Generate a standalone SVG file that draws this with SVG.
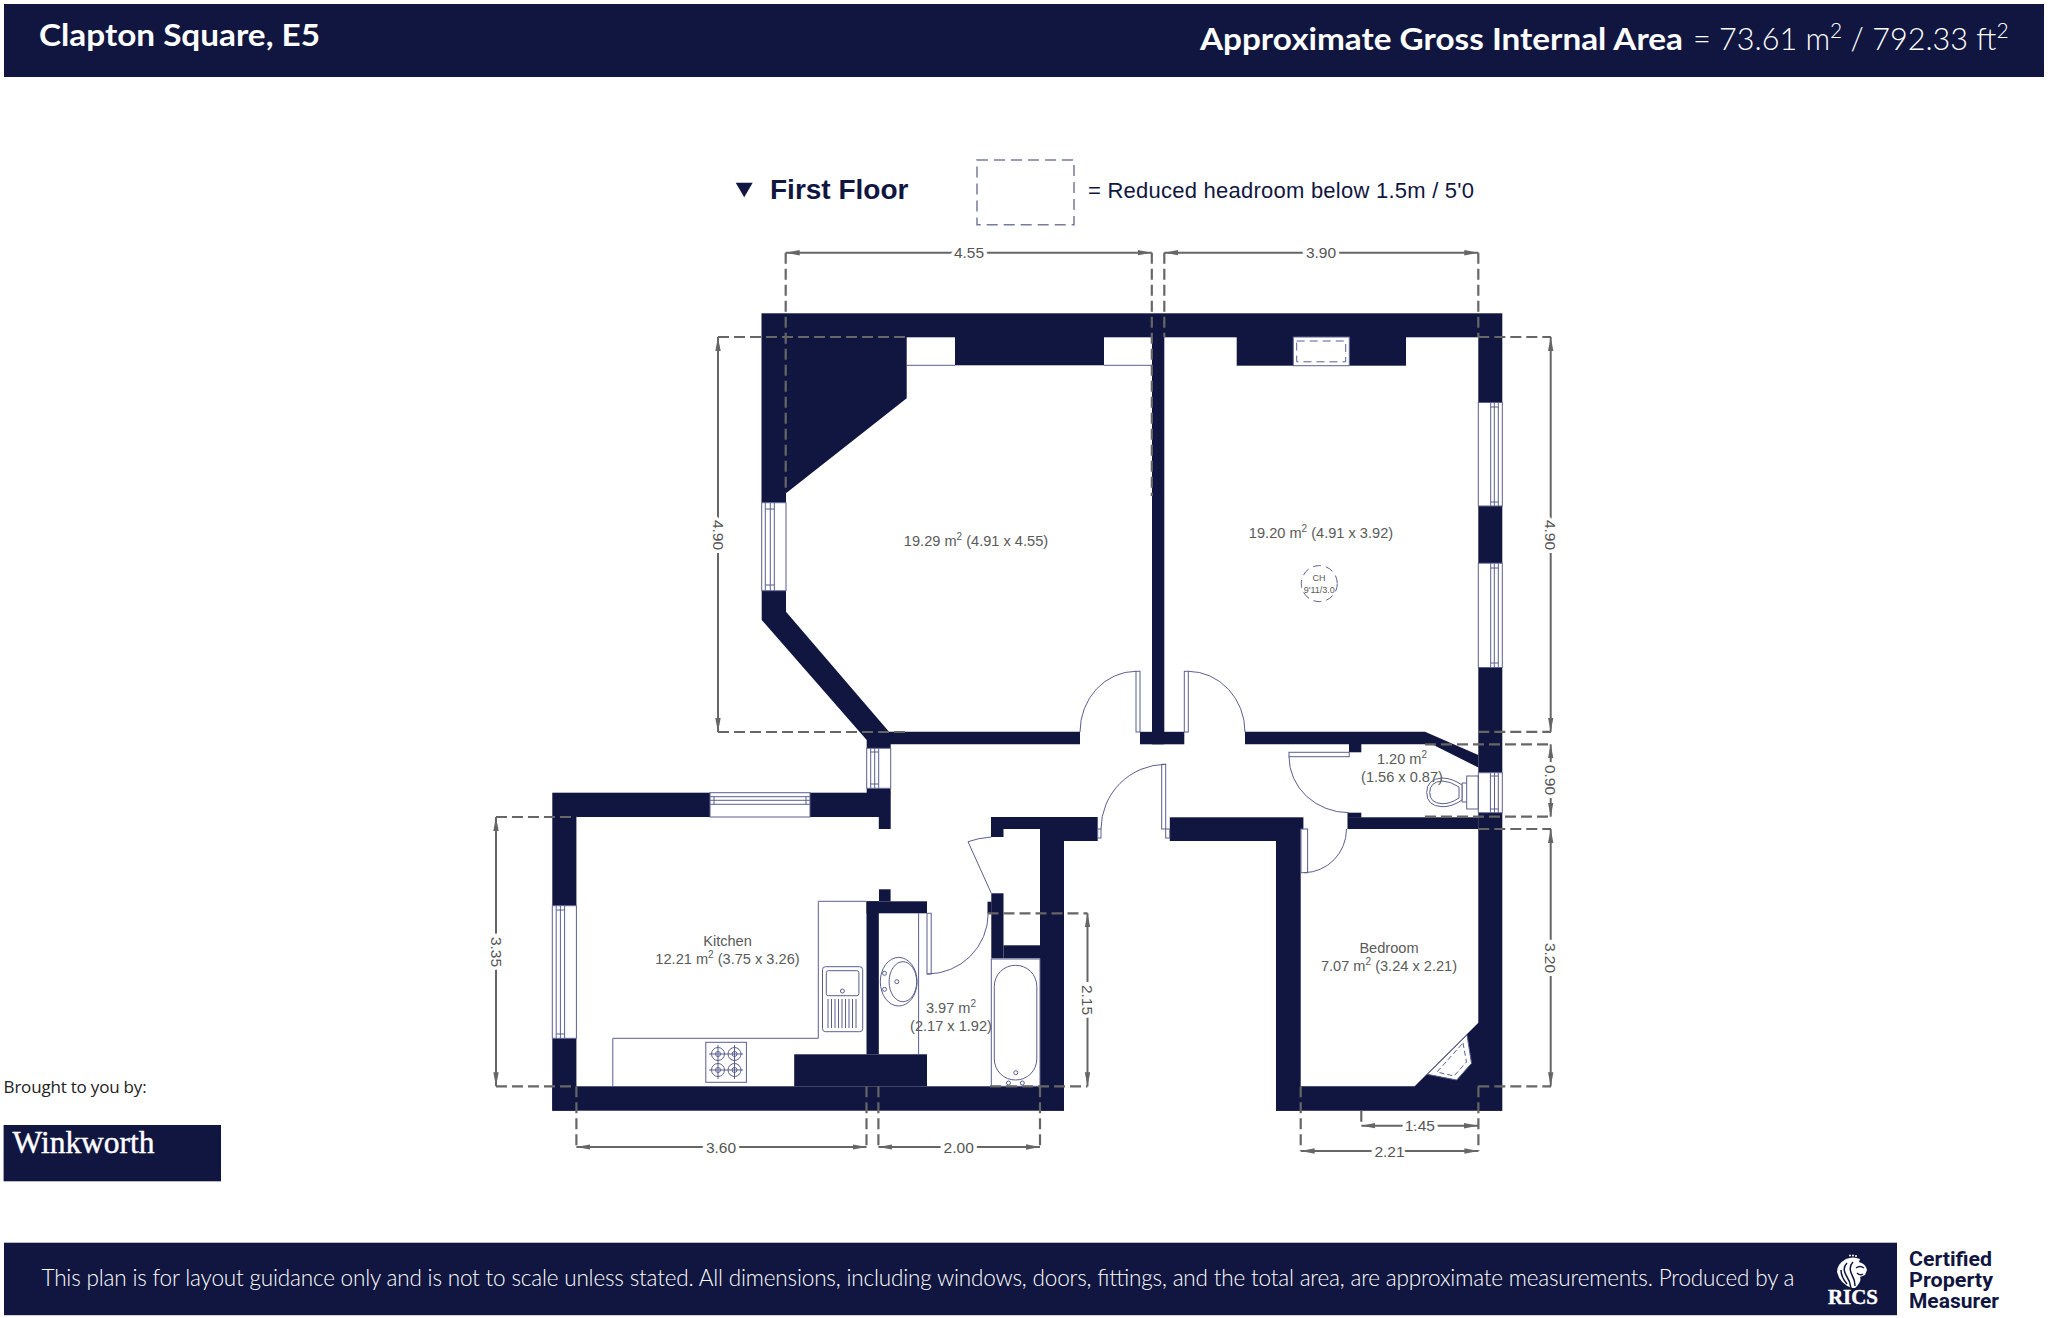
<svg xmlns="http://www.w3.org/2000/svg" width="2048" height="1318" viewBox="0 0 2048 1318">
<style>
.n{fill:#10163f}
.t{fill:#fff;stroke:#5a5f90;stroke-width:1}
.l{fill:none;stroke:#5a5f90;stroke-width:1}
.d{fill:none;stroke:#666;stroke-width:2.2;stroke-dasharray:11 5}
.a{fill:none;stroke:#666;stroke-width:2;marker-start:url(#m);marker-end:url(#m)}
.x{font-family:"Liberation Sans",Arial,sans-serif;font-size:14.6px;fill:#5a5a5a;text-anchor:middle}
.dm{font-family:"Liberation Sans",Arial,sans-serif;font-size:15.5px;fill:#555;text-anchor:middle;paint-order:stroke;stroke:#fff;stroke-width:7px}
.bn{font-family:Lato,"Noto Sans",sans-serif;fill:#fff}
</style>
<defs>
<marker id="m" markerWidth="15" markerHeight="7" refX="14" refY="3.5" orient="auto-start-reverse" markerUnits="userSpaceOnUse"><path d="M0 0.8 L14 3.5 L0 6.2Z" fill="#666"/></marker>
</defs>
<rect width="2048" height="1318" fill="#fff"/>
<g id="header">
<rect class="n" x="4" y="4" width="2040" height="73"/>
<text class="bn" x="39" y="46" font-size="30" font-weight="700" textLength="281" lengthAdjust="spacingAndGlyphs">Clapton Square, E5</text>
<text class="bn" x="1200" y="49.5" font-size="30" font-weight="700" textLength="483" lengthAdjust="spacingAndGlyphs">Approximate Gross Internal Area</text>
<text class="bn" x="1693" y="49.5" font-size="30.6" font-weight="300">= 73.61 m<tspan dy="-12" font-size="21">2</tspan><tspan dy="12"> / 792.33 ft</tspan><tspan dy="-12" font-size="21">2</tspan></text>
</g>
<g id="legend">
<path class="n" d="M735.7 182.7H752.7L744.2 197.3Z"/>
<text x="770" y="198.5" font-family="'Liberation Sans',Arial,sans-serif" font-size="28" font-weight="700" fill="#10163f">First Floor</text>
<rect x="977" y="160" width="97" height="64.7" fill="none" stroke="#777b9b" stroke-width="1.5" stroke-dasharray="11 6"/>
<text x="1088" y="198" font-family="'Liberation Sans',Arial,sans-serif" font-size="22" fill="#10163f" textLength="386">= Reduced headroom below 1.5m / 5'0</text>
</g>
<g id="walls" class="n">
<rect x="761.5" y="313.3" width="740.8" height="24"/>
<path d="M761.5 337H906.7V398.3L786 493.3V502.7H761.5Z"/>
<rect x="955" y="337" width="149" height="28.3"/>
<rect x="1236.7" y="337" width="56.6" height="28.7"/>
<rect x="1349.3" y="337" width="56.7" height="28.7"/>
<rect x="1152" y="337" width="12.3" height="407.3"/>
<rect x="1140" y="731.8" width="44.3" height="12.5"/>
<path d="M761.7 590.7H786V611.7L889 731.8H1080V744.3H890.7V748.3H866.7V740L761.7 620Z"/>
<rect x="1478.3" y="337" width="24" height="65.5"/>
<rect x="1478.3" y="506" width="24" height="57.2"/>
<rect x="1478.3" y="667.5" width="24" height="105.2"/>
<rect x="1478.3" y="812.7" width="24" height="298"/>
<path d="M1245 731.8H1425L1478.3 755V767.5L1432 744.3H1245Z"/>
<rect x="1349" y="744" width="12.3" height="8.3"/>
<rect x="1347.5" y="817.3" width="131" height="11.7"/>
<rect x="1347.5" y="812.7" width="13.8" height="5"/>
<rect x="1276" y="829" width="24.7" height="281.7"/>
<rect x="1169.8" y="817.3" width="133.6" height="11.7"/>
<rect x="1169.8" y="829" width="106.2" height="12"/>
<path d="M1276 1086.3H1414.7L1478.3 1022.7H1502V1110.7H1276Z"/>
<rect x="991" y="817" width="106.7" height="12"/>
<rect x="1040" y="829" width="57.7" height="12"/>
<rect x="991" y="829" width="12.5" height="8"/>
<rect x="1040" y="829" width="24" height="281.7"/>
<rect x="991.3" y="893.3" width="12.2" height="65"/>
<rect x="987.5" y="901.7" width="4" height="11.6"/>
<rect x="1003.5" y="945.3" width="36.5" height="13"/>
<rect x="552.3" y="792.7" width="157.7" height="24.3"/>
<rect x="810" y="792.7" width="80.7" height="24.3"/>
<rect x="866.7" y="788.3" width="24" height="5"/>
<rect x="878.8" y="817" width="11.9" height="12"/>
<rect x="552.3" y="817" width="24.1" height="88.7"/>
<rect x="552.3" y="1038.3" width="24.1" height="72.4"/>
<rect x="552.3" y="1086.3" width="511.7" height="24.4"/>
<rect x="794.2" y="1054.3" width="132.8" height="32"/>
<rect x="866.5" y="901.3" width="12.3" height="153"/>
<rect x="866.5" y="901.3" width="60.5" height="12"/>
<rect x="879" y="889.3" width="11.6" height="12"/>
</g>
<g id="chimney-recesses">
<path class="l" d="M906.7 365.3H955M1104 365.3H1152"/>
<rect class="t" x="1293.3" y="337" width="56" height="28.7"/>
<rect x="1296.7" y="341" width="49" height="20.8" fill="none" stroke="#5a5f90" stroke-dasharray="8 5"/>
</g>
<g id="windows">
<g id="window-left"><rect class="t" x="761.7" y="502.7" width="24.3" height="88"/><path class="l" d="M765.3 502.7V590.7M770.3 502.7V590.7M774.3 502.7V590.7M765.3 509H774.3M765.3 585H774.3"/></g>
<g id="window-landing"><rect class="t" x="866.7" y="748.3" width="24" height="40"/><path class="l" d="M870.7 748.3V788.3M874.7 748.3V788.3M878.7 748.3V788.3M870.7 752H878.7M870.7 784H878.7"/></g>
<g id="window-right-1"><rect class="t" x="1478.3" y="402.5" width="24" height="103.5"/><path class="l" d="M1490.7 402.5V506M1494.3 402.5V506M1498.3 402.5V506M1490.7 407H1498.3M1490.7 502H1498.3"/></g>
<g id="window-right-2"><rect class="t" x="1478.3" y="563.2" width="24" height="104.3"/><path class="l" d="M1490.7 563.2V667.5M1494.3 563.2V667.5M1498.3 563.2V667.5M1490.7 568H1498.3M1490.7 663H1498.3"/></g>
<g id="window-wc"><rect class="t" x="1478.3" y="772.7" width="24" height="40"/><path class="l" d="M1490.4 772.7V812.7M1494.5 772.7V812.7M1498.3 772.7V812.7M1490.4 776H1498.3M1490.4 809H1498.3"/></g>
<g id="window-kitchen-top"><rect class="t" x="710" y="792.7" width="100" height="24.3"/><path class="l" d="M710 796.7H810M710 800.3H810M710 804.3H810M714 796.7V804.3M806 796.7V804.3"/></g>
<g id="window-kitchen-left"><rect class="t" x="552.3" y="905.7" width="24.1" height="132.6"/><path class="l" d="M556.2 905.7V1038.3M560.4 905.7V1038.3M564.6 905.7V1038.3M556.2 910H564.6M556.2 1034H564.6"/></g>
</g>
<g id="doors">
<g id="door-living-left"><rect class="t" x="1136" y="671.3" width="4" height="60.7"/><path class="l" d="M1136 671.3A56 60.7 0 0 0 1080 732"/></g>
<g id="door-living-right"><rect class="t" x="1184.3" y="671.3" width="4" height="60.7"/><path class="l" d="M1188.3 671.3A57 60.7 0 0 1 1245 732"/></g>
<g id="door-hall"><rect class="t" x="1161.7" y="764.3" width="4" height="64.7"/><path class="l" d="M1165.7 764.3A65 65 0 0 0 1101 829"/><rect class="t" x="1097.7" y="829" width="3.3" height="9"/><rect class="t" x="1165.7" y="829" width="4" height="9"/></g>
<g id="door-wc"><rect class="t" x="1289" y="752.3" width="60.2" height="4.4"/><path class="l" d="M1289 756.7A60 56 0 0 0 1349 812.7"/></g>
<g id="door-bedroom"><rect class="t" x="1301" y="829" width="6.6" height="43.7"/><path class="l" d="M1304 872.7A43 43.7 0 0 0 1346.5 829"/></g>
<g id="door-kitchen-bath"><path class="l" d="M991.3 893.3L968 841.7Q978 838 991.3 837"/></g>
<g id="door-bath"><rect class="t" x="927" y="913.3" width="4.2" height="60.7"/><path class="l" d="M927 974A61 60.7 0 0 0 988.2 913.3"/></g>
</g>
<g id="fittings">
<path id="worktop" class="l" d="M612.8 1086.3V1038.3H818.3V901.3H866.5"/>
<g id="sink"><rect class="l" x="822.5" y="966.7" width="40.2" height="65" rx="3"/><rect class="l" x="826.3" y="970.7" width="32.6" height="25" rx="2"/><circle class="l" cx="842.4" cy="991" r="2"/>
<path class="l" d="M828 999V1028M831.5 999V1028M835 999V1028M838.5 999V1028M842 999V1028M845.5 999V1028M849 999V1028M852.5 999V1028M856 999V1028"/></g>
<g id="hob"><rect class="l" x="705.8" y="1042.3" width="40.6" height="40"/>
<g class="l"><circle cx="718" cy="1054" r="6.5"/><circle cx="718" cy="1054" r="2.5"/><circle cx="734.5" cy="1054" r="6.5"/><circle cx="734.5" cy="1054" r="2.5"/><circle cx="718" cy="1070" r="6.5"/><circle cx="718" cy="1070" r="2.5"/><circle cx="734.5" cy="1070" r="6.5"/><circle cx="734.5" cy="1070" r="2.5"/>
<path d="M709 1054H743M709 1070H743M718 1045V1079M734.5 1045V1079"/></g></g>
<g id="basin"><ellipse class="l" cx="898.7" cy="981.7" rx="18.4" ry="24.3"/><ellipse class="l" cx="902.9" cy="981.7" rx="13.8" ry="20"/><circle class="l" cx="896.8" cy="981.7" r="2"/><circle class="l" cx="884.5" cy="973.3" r="2"/><circle class="l" cx="884.5" cy="989.3" r="2"/></g>
<path class="l" d="M918.6 913.3V1054.3"/>
<g id="bath"><rect class="l" x="991.3" y="959" width="48.7" height="127.3"/><rect class="l" x="994.3" y="965.3" width="42.5" height="114.7" rx="21" ry="21"/><circle class="l" cx="1015.8" cy="1072.7" r="2"/><circle class="l" cx="1008.5" cy="1083" r="2"/><circle class="l" cx="1022.3" cy="1083" r="2"/></g>
<g id="wc"><rect class="l" x="1466.7" y="776" width="11.6" height="33"/><path class="l" d="M1466.7 783H1462V802H1466.7"/><path class="t" d="M1462 785Q1452 778 1442 778Q1426.7 779 1426.7 792.5Q1426.7 806 1442 806.7Q1452 807 1462 800Z"/><path class="l" d="M1459 787Q1450 781 1442 781Q1429.7 782 1429.7 792.5Q1429.7 803 1442 803.7Q1450 804 1459 798Z"/></g>
<g id="cupboard"><path class="t" d="M1467 1035L1471.5 1063.3L1456.7 1080L1427.4 1074.3Z"/><path fill="none" stroke="#5a5f90" stroke-dasharray="5 3" d="M1463 1043L1466.5 1062L1454 1076L1437 1072Z"/></g>
<g id="ceiling-height"><circle cx="1319.3" cy="583.6" r="18" fill="none" stroke="#5a5f90" stroke-dasharray="8 5"/>
<text class="x" x="1319" y="581" style="font-size:9px">CH</text><text class="x" x="1319.3" y="593" style="font-size:9px">9'11/3.0</text></g>
</g>
<g id="connectors">
<path class="d" d="M785.7 252.7V493M1151.8 252.7V496M1164.3 252.7V337M1478.3 252.7V337"/>
<path class="d" d="M718 337H906.7M718 732H907M1478.3 337H1551M1478.3 731.8H1551"/>
<path class="d" d="M1425 744.3H1551M1425 816.7H1551M1478.3 829H1551M1478.3 1086.3H1551"/>
<path class="d" d="M987.5 913.3H1087.5M990 1086.3H1087.5"/>
<path class="d" d="M496 817H576.4M496 1086.3H576.4"/>
<path class="d" d="M576.4 1086.3V1147M866.5 1086.3V1147M878.4 1086.3V1147M1040 1086.3V1147"/>
<path class="d" d="M1300.7 1086.3V1151M1478.4 1086.3V1151M1361.3 1110.7V1125.7"/>
<path class="a" d="M785.7 252.7H1151.8"/>
<path class="a" d="M1164.3 252.7H1478.3"/>
<path class="a" d="M718 337V732"/>
<path class="a" d="M1550.7 337V731.8"/>
<path class="a" d="M1550.7 744.3V816.7"/>
<path class="a" d="M1550.7 829V1086.3"/>
<path class="a" d="M1087.5 913.3V1086.3"/>
<path class="a" d="M496 817V1086.3"/>
<path class="a" d="M576.4 1147H866.5"/>
<path class="a" d="M878.4 1147H1040"/>
<path class="a" d="M1361.3 1125.7H1478"/>
<path class="a" d="M1300.7 1151H1478.4"/>
</g>
<g id="dimension-labels">
<text class="dm" x="969" y="258.2">4.55</text>
<text class="dm" x="1321" y="258.2">3.90</text>
<text class="dm" transform="translate(718 535) rotate(90)" x="0" y="5.5">4.90</text>
<text class="dm" transform="translate(1550.7 535) rotate(90)" x="0" y="5.5">4.90</text>
<text class="dm" transform="translate(1550.7 780) rotate(90)" x="0" y="5.5">0.90</text>
<text class="dm" transform="translate(1550.7 958) rotate(90)" x="0" y="5.5">3.20</text>
<text class="dm" transform="translate(1087.5 1000) rotate(90)" x="0" y="5.5">2.15</text>
<text class="dm" transform="translate(496 952) rotate(90)" x="0" y="5.5">3.35</text>
<text class="dm" x="721" y="1152.5">3.60</text>
<text class="dm" x="958.7" y="1152.5">2.00</text>
<text class="dm" x="1419.8" y="1131.2">1.45</text>
<text class="dm" x="1389.5" y="1156.5">2.21</text>
</g>
<g id="room-labels">
<text class="x" x="976" y="546">19.29 m<tspan dy="-6" font-size="10">2</tspan><tspan dy="6"> (4.91 x 4.55)</tspan></text>
<text class="x" x="1321" y="538">19.20 m<tspan dy="-6" font-size="10">2</tspan><tspan dy="6"> (4.91 x 3.92)</tspan></text>
<text class="x" x="1402" y="764">1.20 m<tspan dy="-6" font-size="10">2</tspan></text>
<text class="x" x="1402" y="781.5">(1.56 x 0.87)</text>
<text class="x" x="1389" y="953">Bedroom</text>
<text class="x" x="1389" y="971">7.07 m<tspan dy="-6" font-size="10">2</tspan><tspan dy="6"> (3.24 x 2.21)</tspan></text>
<text class="x" x="727.5" y="946">Kitchen</text>
<text class="x" x="727.5" y="964">12.21 m<tspan dy="-6" font-size="10">2</tspan><tspan dy="6"> (3.75 x 3.26)</tspan></text>
<text class="x" x="951" y="1013">3.97 m<tspan dy="-6" font-size="10">2</tspan></text>
<text class="x" x="951" y="1031">(2.17 x 1.92)</text>
</g>
<g id="branding">
<text x="3.6" y="1092.5" font-family="'Open Sans','Noto Sans',sans-serif" font-size="17" fill="#222" textLength="143">Brought to you by:</text>
<rect class="n" x="3.6" y="1125" width="217.4" height="56.3"/>
<text x="12.5" y="1152.5" font-family="'Liberation Serif',serif" font-size="30.5" font-weight="400" fill="#fff" stroke="#fff" stroke-width=".4" textLength="142" lengthAdjust="spacingAndGlyphs">Winkworth</text>
</g>
<g id="footer">
<rect class="n" x="4" y="1242.7" width="1893" height="72.5"/>
<text class="bn" x="41.5" y="1286" font-size="22.5" font-weight="300" textLength="1753">This plan is for layout guidance only and is not to scale unless stated. All dimensions, including windows, doors, fittings, and the total area, are approximate measurements. Produced by a</text>
<g id="rics-lion">
<path fill="#fff" d="M1846 1259Q1853 1256 1860 1259L1859 1262Q1866 1264 1867 1270L1865 1275L1860 1277Q1862 1282 1855 1288L1852 1288Q1840 1284 1837 1272Q1837 1264 1846 1259Z"/>
<path fill="none" stroke="#10163f" stroke-width="1.5" d="M1847 1263Q1842 1268 1846 1275Q1850 1281 1851 1288M1853 1262Q1848 1267 1852 1275Q1855 1280 1855 1286M1841 1270Q1841 1277 1847 1284M1856 1268Q1860 1265 1864 1268M1857 1273Q1860 1276 1863 1274"/>
<circle cx="1850" cy="1255.5" r="1" fill="#fff"/><circle cx="1853" cy="1255.5" r="1" fill="#fff"/><circle cx="1856" cy="1256" r="1" fill="#fff"/>
</g>
<text x="1828" y="1304" font-family="'Liberation Serif',serif" font-size="20" font-weight="700" fill="#fff" stroke="#fff" stroke-width=".4" textLength="50" lengthAdjust="spacingAndGlyphs">RICS</text>
<g font-family="Roboto,sans-serif" font-size="20.5" font-weight="700" fill="#10163f">
<text x="1909" y="1266" textLength="83" lengthAdjust="spacingAndGlyphs">Certified</text>
<text x="1909" y="1287" textLength="84" lengthAdjust="spacingAndGlyphs">Property</text>
<text x="1909" y="1307.5" textLength="90" lengthAdjust="spacingAndGlyphs">Measurer</text>
</g>
</g>
</svg>
